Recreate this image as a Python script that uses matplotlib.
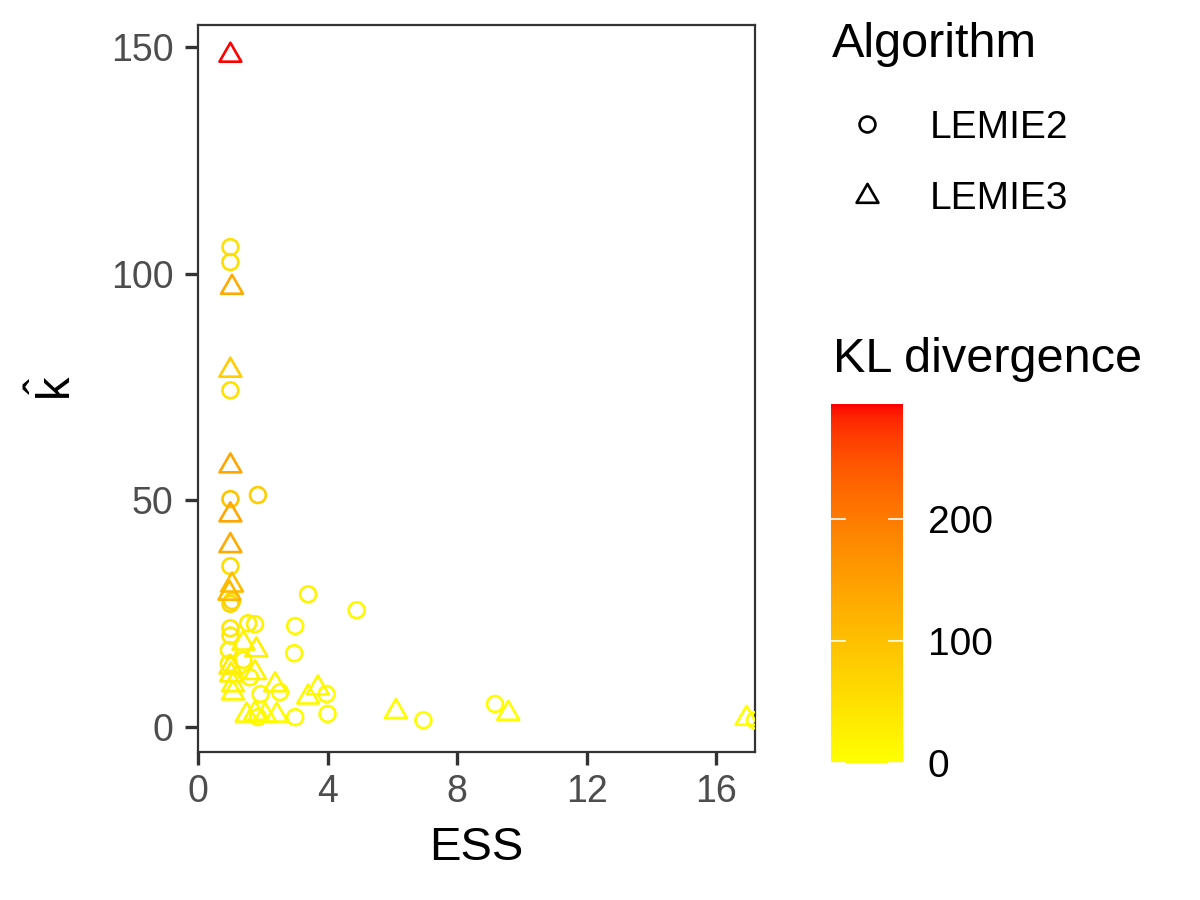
import numpy as np
import matplotlib
matplotlib.use("Agg")
import matplotlib.pyplot as plt
from matplotlib.colors import ListedColormap, Normalize
from matplotlib.path import Path
from matplotlib.lines import Line2D

plt.rcParams['font.family'] = ['Liberation Sans', 'DejaVu Sans']
plt.rcParams['mathtext.fontset'] = 'custom'
plt.rcParams['mathtext.rm'] = 'Liberation Sans'
plt.rcParams['mathtext.it'] = 'Liberation Sans'

# ---------------- data ----------------
algorithms = ["LEMIE2", "LEMIE3"]

# LEMIE2 (circles)
ess_2 = [1.0, 1.0, 1.0, 1.0, 1.85, 1.0, 1.05, 1.0, 3.4, 4.9, 1.0, 1.0, 1.55, 1.76,
         3.0, 0.95, 2.97, 1.4, 0.95, 1.6, 1.93, 2.53, 3.97, 1.85, 3.0, 4.0, 6.96,
         9.17, 17.2]
khat_2 = [105.9, 102.6, 74.3, 50.3, 51.2, 35.5, 27.8, 27.2, 29.3, 25.8, 21.8, 20.2,
          22.9, 22.7, 22.3, 17.0, 16.3, 14.8, 14.0, 11.0, 7.3, 7.7, 7.3, 2.2, 2.2,
          2.9, 1.5, 5.1, 1.5]
kl_2 = [50, 52, 50, 95, 80, 55, 70, 65, 20, 10, 40, 35, 25, 20, 10, 25, 10, 20, 22,
        15, 10, 10, 5, 10, 5, 5, 2, 2, 1]

# LEMIE3 (triangles)
ess_3 = [1.0, 1.05, 1.0, 1.0, 1.0, 1.0, 1.05, 0.97, 1.4, 1.8, 1.0, 1.02, 1.08, 1.08,
         1.76, 2.38, 3.4, 3.7, 1.5, 1.76, 2.07, 2.43, 6.11, 9.58, 16.94]
khat_3 = [148.2, 97.0, 78.7, 57.6, 46.8, 40.0, 31.3, 29.5, 18.5, 17.0, 13.2, 11.5,
          9.3, 7.5, 12.0, 9.3, 6.6, 8.6, 2.6, 3.0, 2.6, 2.6, 3.4, 3.0, 1.9]
kl_3 = [294, 135, 80, 140, 140, 135, 105, 115, 20, 25, 30, 25, 20, 15, 20, 15, 10,
        10, 10, 10, 8, 8, 3, 2, 0.5]

x_ticks = [0, 4, 8, 12, 16]
y_ticks = [0, 50, 100, 150]
cbar_ticks = [0, 100, 200]
x_title = "ESS"
y_title = r"$\hat{k}$"
legend_title = "Algorithm"
cbar_title = "KL divergence"


# ------------- colour ramp yellow -> red in CIELAB (like ggplot) -------------
def _srgb_to_lab(rgb):
    rgb = np.asarray(rgb, float)
    lin = np.where(rgb <= 0.04045, rgb / 12.92, ((rgb + 0.055) / 1.055) ** 2.4)
    M = np.array([[0.4124, 0.3576, 0.1805],
                  [0.2126, 0.7152, 0.0722],
                  [0.0193, 0.1192, 0.9505]])
    xyz = M @ lin
    white = np.array([0.95047, 1.0, 1.08883])
    t = xyz / white
    f = np.where(t > (6 / 29) ** 3, np.cbrt(t), t / (3 * (6 / 29) ** 2) + 4 / 29)
    return np.array([116 * f[1] - 16, 500 * (f[0] - f[1]), 200 * (f[1] - f[2])])


def _lab_to_srgb(lab):
    L, a, b = lab
    fy = (L + 16) / 116
    fx = fy + a / 500
    fz = fy - b / 200
    d = 6 / 29

    def finv(f):
        return f ** 3 if f > d else 3 * d * d * (f - 4 / 29)
    white = np.array([0.95047, 1.0, 1.08883])
    xyz = np.array([finv(fx), finv(fy), finv(fz)]) * white
    Minv = np.array([[3.2406, -1.5372, -0.4986],
                     [-0.9689, 1.8758, 0.0415],
                     [0.0557, -0.2040, 1.0570]])
    lin = Minv @ xyz
    lin = np.clip(lin, 0, 1)
    rgb = np.where(lin <= 0.0031308, 12.92 * lin, 1.055 * lin ** (1 / 2.4) - 0.055)
    return np.clip(rgb, 0, 1)


lab_lo = _srgb_to_lab([1, 1, 0])
lab_hi = _srgb_to_lab([1, 0, 0])
ramp = [_lab_to_srgb(lab_lo + (lab_hi - lab_lo) * t) for t in np.linspace(0, 1, 256)]
cmap = ListedColormap(ramp)
kl_max = max(max(kl_2), max(kl_3))
norm = Normalize(vmin=0, vmax=kl_max)

# triangle marker (equilateral, centroid at origin)
tri = Path([(-1, -0.57735), (1, -0.57735), (0, 1.1547), (-1, -0.57735)],
           [Path.MOVETO, Path.LINETO, Path.LINETO, Path.CLOSEPOLY])

# ---------------- figure ----------------
fig = plt.figure(figsize=(12, 9), dpi=100)
ax = fig.add_axes([198 / 1200, 1 - 752 / 900, 557 / 1200, 727 / 900])

circ_s = 130
tri_s = 330
lw = 1.9

ax.scatter(ess_2, khat_2, s=circ_s, marker='o', facecolors='none',
           edgecolors=cmap(norm(np.array(kl_2))), linewidths=lw, zorder=3)
ax.scatter(ess_3, khat_3, s=tri_s, marker=tri, facecolors='none',
           edgecolors=cmap(norm(np.array(kl_3))), linewidths=lw, zorder=3)

ax.set_xlim(0, 17.2)
ax.set_ylim(-5.5, 154.9)
ax.set_xticks(x_ticks)
ax.set_yticks(y_ticks)
ax.tick_params(axis='both', length=9.5, width=2.4, color='#333333',
               labelsize=27, labelcolor='#4D4D4D')
ax.tick_params(axis='x', pad=6)
ax.tick_params(axis='y', pad=8)
for sp in ax.spines.values():
    sp.set_color('#333333')
    sp.set_linewidth(1.6)

ax.set_xlabel(x_title, fontsize=34, va='center')
ax.xaxis.set_label_coords(0.5, -0.132)
ax.set_ylabel(y_title, fontsize=34, va='center')
ax.yaxis.set_label_coords(-0.255, 0.5)

# ---------------- shape legend ----------------
fig.text(832 / 1200, 1 - 57 / 900, legend_title, fontsize=35, va='baseline', ha='left')
leg_y = [123.5, 195.5]
leg_base = [138, 209]
for i, name in enumerate(algorithms):
    mk = 'o' if i == 0 else tri
    ms = np.sqrt(circ_s) if i == 0 else np.sqrt(tri_s)
    fig.add_artist(Line2D([867 / 1200], [1 - leg_y[i] / 900], transform=fig.transFigure,
                          marker=mk, markersize=ms, markerfacecolor='none',
                          markeredgecolor='black', markeredgewidth=lw, linestyle='none'))
    fig.text(930 / 1200, 1 - leg_base[i] / 900, name, fontsize=28, va='baseline', ha='left')

# ---------------- colour bar ----------------
fig.text(833 / 1200, 1 - 372 / 900, cbar_title, fontsize=35, va='baseline', ha='left')
cax = fig.add_axes([831 / 1200, 1 - 763 / 900, 72 / 1200, 359 / 900])
grad = np.linspace(0, kl_max, 300).reshape(-1, 1)
cax.imshow(grad, cmap=cmap, norm=norm, aspect='auto', origin='lower',
           extent=[0, 1, 0, kl_max])
for t in cbar_ticks:
    cax.plot([0, 0.2], [t, t], color='white', lw=1.2)
    cax.plot([0.8, 1], [t, t], color='white', lw=1.2)
cax.set_xlim(0, 1)
cax.set_ylim(0, kl_max)
cax.set_xticks([])
cax.yaxis.tick_right()
cax.set_yticks(cbar_ticks)
cax.tick_params(axis='y', length=0, labelsize=28, labelcolor='black', pad=18)
for sp in cax.spines.values():
    sp.set_visible(False)

fig.savefig("out.png", dpi=100)
